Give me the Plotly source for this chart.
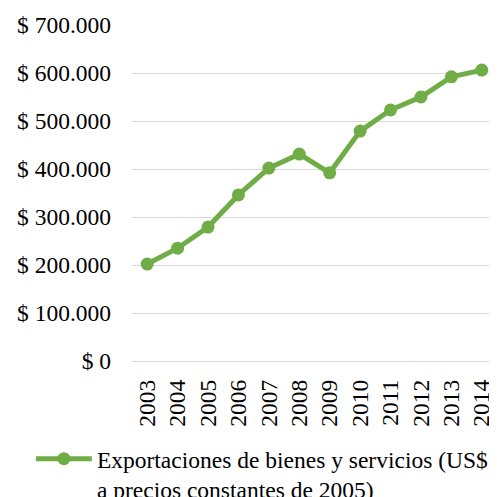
import plotly.graph_objects as go

years = ["2003", "2004", "2005", "2006", "2007", "2008", "2009", "2010", "2011", "2012", "2013", "2014"]
exports = [202000, 235000, 279000, 346000, 402000, 431000, 392000, 479000, 523000, 550000, 592000, 606000]
ytick_vals = [0, 100000, 200000, 300000, 400000, 500000, 600000, 700000]
ytick_text = ["$ 0", "$ 100.000", "$ 200.000", "$ 300.000", "$ 400.000", "$ 500.000", "$ 600.000", "$ 700.000"]
series_name = "Exportaciones de bienes y servicios (US$<br>a precios constantes de 2005)"

green = "#70AD47"
font = "Liberation Serif"
fs = 23.5

fig = go.Figure()
fig.add_trace(go.Scatter(
    x=years, y=exports, mode="lines+markers", name=series_name,
    line=dict(color=green, width=5),
    marker=dict(color=green, size=13),
))

fig.update_layout(
    width=489, height=489,
    margin=dict(l=124, r=0, t=17, b=136, autoexpand=False),
    paper_bgcolor="white", plot_bgcolor="white",
    font=dict(family=font, size=fs, color="#000000"),
    showlegend=True,
    legend=dict(orientation="h", x=-0.277, xanchor="left", y=-0.226, yanchor="top",
                valign="top", font=dict(size=fs, family=font, color="#000000"),
                itemwidth=56, bgcolor="rgba(0,0,0,0)", tracegroupgap=0),
    xaxis=dict(type="category", range=[-0.5, 11.5], tickangle=-90, automargin=False,
               showgrid=False, showline=False, ticks="", ticklabelstandoff=13,
               tickfont=dict(size=fs, family=font, color="#000000")),
    yaxis=dict(range=[0, 700000], tickvals=ytick_vals, ticktext=ytick_text, automargin=False,
               showgrid=True, gridcolor="#d9d9d9", gridwidth=1,
               zeroline=True, zerolinecolor="#d9d9d9", zerolinewidth=1,
               showline=False, ticks="", ticklabelstandoff=20,
               tickfont=dict(size=fs, family=font, color="#000000")),
)

fig.write_html("out.html")
